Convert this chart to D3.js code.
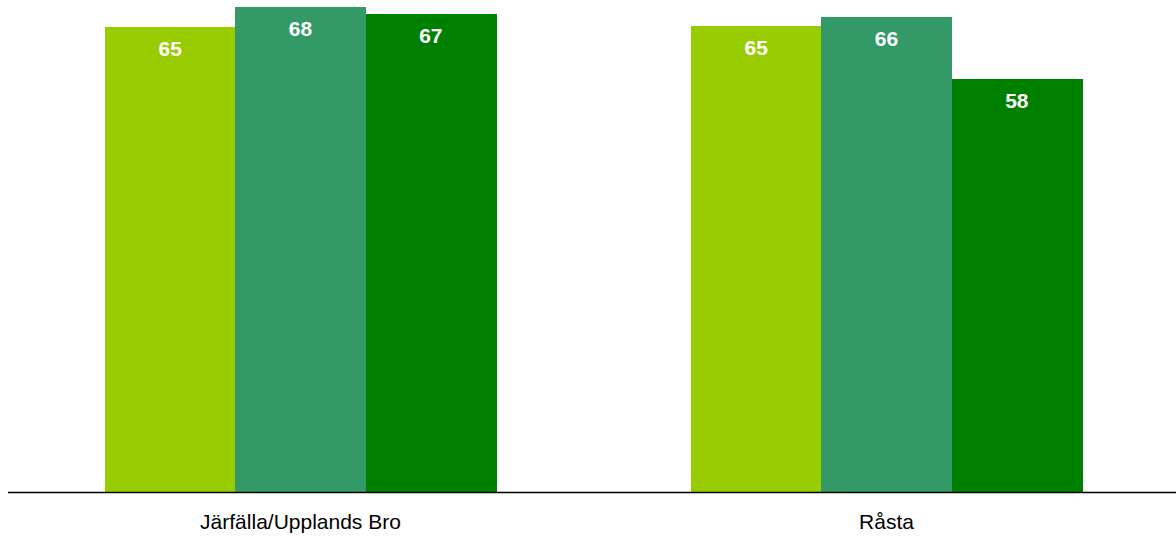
<!DOCTYPE html>
<html>
<head>
<meta charset="utf-8">
<script src="https://cdn.jsdelivr.net/npm/d3@7/dist/d3.min.js"></script>
<style>
  html, body { margin: 0; padding: 0; background: #ffffff; }
  svg { display: block; }
</style>
</head>
<body>
<svg id="chart" width="1176" height="537"></svg>
<script>
// ---- data ----
const categories = ["Järfälla/Upplands Bro", "Råsta"];
const series = ["s1", "s2", "s3"];
const seriesColors = ["#99cc00", "#339966", "#008000"];
const values1 = [64.9, 65.1];   // series 1
const values2 = [67.7, 66.3];   // series 2
const values3 = [66.8, 57.7];   // series 3
const yMax = 68.7;

const seriesValues = [values1, values2, values3];
const data = categories.map((c, i) => ({
  category: c,
  bars: series.map((s, j) => ({ key: s, value: seriesValues[j][i], color: seriesColors[j] }))
}));

const svg = d3.select("#chart");
const W = 1176, H = 537;
const baseline = 492;

const x0 = d3.scaleBand().domain(categories).range([7.5, 1179.5]).padding(0);
const x1 = d3.scaleBand().domain(series).range([0, x0.bandwidth()]).paddingInner(0).paddingOuter(0.748);
const y = d3.scaleLinear().domain([0, yMax]).range([baseline, 0]);

const groups = svg.selectAll("g.group").data(data).enter().append("g")
  .attr("class", "group")
  .attr("transform", d => `translate(${x0(d.category)},0)`);

groups.selectAll("rect").data(d => d.bars).enter().append("rect")
  .attr("x", d => x1(d.key))
  .attr("y", d => y(d.value))
  .attr("width", x1.bandwidth() + 0.5)
  .attr("height", d => y(0) - y(d.value))
  .attr("fill", d => d.color)
  .attr("shape-rendering", "crispEdges");

groups.selectAll("text.val").data(d => d.bars).enter().append("text")
  .attr("class", "val")
  .attr("x", d => x1(d.key) + x1.bandwidth() / 2)
  .attr("y", d => y(d.value) + 29)
  .attr("text-anchor", "middle")
  .attr("fill", "#ffffff")
  .attr("font-family", "'Liberation Sans', Arial, sans-serif")
  .attr("font-weight", "bold")
  .attr("font-size", "21px")
  .text(d => d3.format(".0f")(d.value));

// x axis
const axis = d3.axisBottom(x0).tickSize(0).tickPadding(0);
const gx = svg.append("g").attr("transform", `translate(0,${baseline})`).call(axis);
gx.select(".domain").remove();
gx.append("line").attr("x1", 8).attr("x2", W).attr("y1", 0.5).attr("y2", 0.5)
  .attr("stroke", "#000").attr("stroke-width", 1.3);
gx.selectAll(".tick text")
  .attr("dy", null)
  .attr("y", 37)
  .attr("fill", "#000")
  .attr("font-family", "'Liberation Sans', Arial, sans-serif")
  .attr("font-size", "21px");
</script>
</body>
</html>
